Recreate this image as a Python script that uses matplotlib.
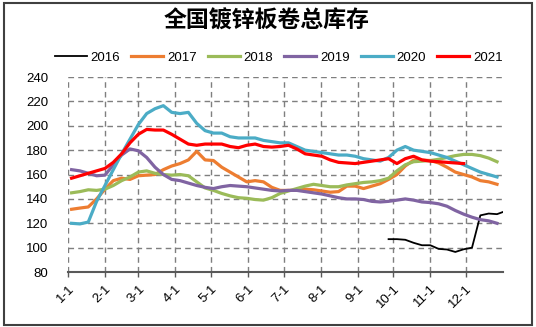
import matplotlib
matplotlib.use("Agg")
import matplotlib.pyplot as plt
import numpy as np
from matplotlib.patches import Rectangle

plt.rcParams["font.family"] = ["Liberation Sans", "Noto Sans CJK SC", "DejaVu Sans"]

# weekly inventory readings (first reading ~3 days into the year)
years = ["2016", "2017", "2018", "2019", "2020", "2021"]
first_week = [38, 0, 0, 0, 0, 0]

inv_2016 = [107, 107, 106.5, 104, 102, 102, 99, 98.5, 96.5, 98.7, 100, 126.5, 128, 127.5, 130]
inv_2017 = [131.5, 132.5, 133.4, 140, 148, 155, 157, 156, 159, 159.5, 160, 164, 167, 169, 172,
            179, 172, 171.5, 166, 162, 158, 154, 155, 154, 149.5, 147, 147, 147, 148, 147.5,
            146.5, 145.5, 146, 150.5, 150.5, 148.5, 150.5, 152.5, 156, 160, 167, 171.8, 171.8,
            171.5, 169.5, 166, 162, 160, 158, 155, 154, 152]
inv_2018 = [145, 146, 147.5, 147, 148, 151, 155, 158, 162, 163, 161, 160, 159.5, 160, 159,
            154, 149, 147, 144.5, 142.5, 141, 140.5, 139.5, 139, 141, 144.5, 146.5, 148.5,
            150.5, 152, 151, 150, 150, 151.5, 152.5, 153.5, 154, 155, 157, 163, 168, 170.5,
            171, 171.5, 172.5, 174, 175.5, 176.5, 176.5, 175.5, 173.5, 170.5]
inv_2019 = [164, 163, 161, 159, 159.5, 168, 176, 181, 179.5, 174, 166, 160, 156, 155, 153,
            151, 149.5, 148.5, 150, 151, 150.5, 150, 149, 148, 147, 146.5, 147, 147, 146,
            145, 144, 142.5, 141, 140, 140, 139.5, 138, 137.5, 138, 139, 140, 139, 137.5,
            137, 136, 134, 130.5, 127.5, 125, 123, 122, 120]
inv_2020 = [120, 119.5, 121, 138, 151, 164, 177, 189, 201, 210, 214, 216.5, 211, 210, 211,
            202, 196, 194, 194, 191, 190, 190, 190, 188, 187, 186, 186, 183, 180, 179, 178,
            177, 176, 176, 175, 173, 172, 171, 174, 180, 183, 180, 179, 178, 176, 174, 171,
            168, 165, 162, 160, 158]
inv_2021 = [157, 159, 161, 163, 165, 170, 177, 186, 193, 197, 196.5, 196.5, 193, 189, 185,
            184, 185, 185, 185, 183, 182, 184, 185, 183, 182.5, 183, 184, 181, 177, 176, 175,
            172, 170, 169.5, 169, 170, 171, 172, 173, 169, 173, 175, 172, 171, 170.5, 170,
            169.5, 169]
series = [inv_2016, inv_2017, inv_2018, inv_2019, inv_2020, inv_2021]

month_starts = [0, 31, 59, 90, 120, 151, 181, 212, 243, 273, 304, 334]
month_labels = [f"{m}-1" for m in range(1, 13)]

colors = ["#000000", "#ED7D31", "#9BBB59", "#8064A2", "#4BACC6", "#FF0000"]
widths = [1.3, 2.3, 2.3, 2.3, 2.3, 2.3]

fig = plt.figure(figsize=(5.36, 3.27), dpi=100)
ax = fig.add_axes([0.1269, 0.168, 0.8115, 0.5965])

for name, start, values, color, lw in zip(years, first_week, series, colors, widths):
    days = 3 + 7 * (start + np.arange(len(values)))
    ax.plot(days, values, color=color, lw=lw, label=name, solid_joinstyle="round")

ax.set_xlim(0, 365)
ax.set_ylim(80, 240)
ax.set_yticks(np.arange(80, 241, 20))
ax.set_xticks(month_starts)
ax.set_xticklabels(month_labels, rotation=45, ha="right", va="top", rotation_mode="anchor")

ax.grid(True, color="#7f7f7f", linestyle=(0, (4, 3)), linewidth=1.0)
for side in ["left", "right", "top"]:
    ax.spines[side].set_visible(False)
ax.spines["bottom"].set_color("#595959")
ax.spines["bottom"].set_linewidth(1.5)
ax.tick_params(axis="y", length=0, pad=14, labelsize=9.5)
ax.tick_params(axis="x", length=3.5, width=1, color="#595959", pad=4, labelsize=9.5)

fig.text(0.498, 0.935, "全国镀锌板卷总库存", ha="center", va="center",
         fontsize=16.5, fontweight="heavy", family=["Noto Sans CJK SC"])

fig.legend(loc="center", bbox_to_anchor=(0.52, 0.823), ncol=6, frameon=False,
           fontsize=9.5, handlelength=2.4, handletextpad=0.3, columnspacing=0.85)

fig.patches.append(Rectangle((0.007, 0.006), 0.985, 0.985, transform=fig.transFigure,
                             fill=False, edgecolor="#404040", linewidth=1.5))

fig.savefig("out.png", dpi=100)
